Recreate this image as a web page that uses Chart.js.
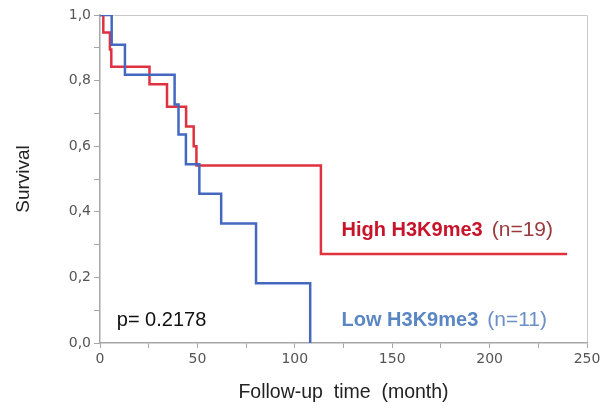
<!DOCTYPE html>
<html>
<head>
<meta charset="utf-8">
<script src="https://cdn.jsdelivr.net/npm/chart.js@4/dist/chart.umd.min.js"></script>
<style>
html,body{margin:0;padding:0;background:#fff;}
#wrap{width:600px;height:412px;position:relative;}
</style>
</head>
<body>
<div id="wrap"><canvas id="c"></canvas></div>
<script>
// Kaplan-Meier step data (months, survival)
const highTime = [0, 1.7, 5.1, 5.8, 25.4, 34.4, 44.2, 48.1, 49.5, 113.4, 239.8];
const highSurv = [1, 0.947, 0.895, 0.842, 0.789, 0.72, 0.66, 0.6, 0.541, 0.271, 0.271];
const lowTime = [0, 6, 12.8, 38.3, 40.3, 44.1, 51, 62.2, 80.1, 107.9];
const lowSurv = [1, 0.909, 0.818, 0.727, 0.636, 0.545, 0.455, 0.364, 0.182, 0];

const xTickLabels = ['0', '50', '100', '150', '200', '250'];
const yTickLabels = ['0,0', '0,2', '0,4', '0,6', '0,8', '1,0'];

const seriesLabels = ['High H3K9me3', 'Low H3K9me3'];
const seriesCounts = ['(n=19)', '(n=11)'];
const pText = 'p= 0.2178';

const toPts = (t, s) => t.map((v, i) => ({x: v, y: s[i]}));

const annot = {
  id: 'annot',
  beforeDraw(chart) {
    const {ctx, chartArea: a} = chart;
    ctx.save();
    ctx.strokeStyle = '#c8c8c8';
    ctx.lineWidth = 1;
    ctx.beginPath();
    ctx.moveTo(a.left, a.top + 0.5);
    ctx.lineTo(a.right + 0.5, a.top + 0.5);
    ctx.lineTo(a.right + 0.5, a.bottom);
    ctx.stroke();
    ctx.restore();
  },
  afterDraw(chart) {
    const {ctx, scales: {x, y}} = chart;
    ctx.save();
    ctx.textBaseline = 'alphabetic';
    ctx.textAlign = 'left';
    // High label
    let px = x.getPixelForValue(124), py = y.getPixelForValue(0.325);
    ctx.font = 'bold 20px "Liberation Sans", Arial, sans-serif';
    ctx.fillStyle = '#c8142a';
    ctx.fillText(seriesLabels[0], px, py);
    let w = ctx.measureText(seriesLabels[0]).width;
    ctx.font = '21px "Liberation Sans", Arial, sans-serif';
    ctx.fillStyle = '#9a3a3e';
    ctx.fillText(seriesCounts[0], px + w + 9, py);
    // Low label
    py = y.getPixelForValue(0.053);
    ctx.font = 'bold 20px "Liberation Sans", Arial, sans-serif';
    ctx.fillStyle = '#5b86c4';
    ctx.fillText(seriesLabels[1], px, py);
    w = ctx.measureText(seriesLabels[1]).width;
    ctx.font = '21px "Liberation Sans", Arial, sans-serif';
    ctx.fillStyle = '#6b8fc6';
    ctx.fillText(seriesCounts[1], px + w + 9, py);
    // p value
    ctx.font = '20px "Liberation Sans", Arial, sans-serif';
    ctx.fillStyle = '#111';
    ctx.fillText(pText, x.getPixelForValue(8.6), y.getPixelForValue(0.053));
    ctx.restore();
  }
};

new Chart(document.getElementById('c'), {
  type: 'line',
  data: {
    datasets: [
      {label: seriesLabels[1], data: toPts(lowTime, lowSurv), borderColor: '#4468c0', borderWidth: 2.5, stepped: 'before', pointRadius: 0, fill: false},
      {label: seriesLabels[0], data: toPts(highTime, highSurv), borderColor: '#e0313f', borderWidth: 2.5, stepped: 'before', pointRadius: 0, fill: false}
    ]
  },
  options: {
    responsive: true,
    maintainAspectRatio: false,
    animation: false,
    layout: {padding: {top: 15, right: 13, left: 0, bottom: 0}},
    plugins: {legend: {display: false}, tooltip: {enabled: false}},
    scales: {
      x: {
        type: 'linear', min: 0, max: 250,
        afterFit(s) { s.height = 69; s.paddingRight = 0; s.paddingLeft = 0; },
        border: {color: '#a6a6a6', width: 1.5},
        grid: {drawOnChartArea: false, color: '#a6a6a6', tickLength: 5},
        ticks: {
          stepSize: 25, padding: 3, color: '#555',
          font: {family: '"DejaVu Sans", sans-serif', size: 14},
          maxRotation: 0, autoSkip: false,
          callback: (v) => { const i = Math.round(v / 50); return Math.abs(v - i * 50) < 1e-6 ? xTickLabels[i] : ''; }
        },
        title: {display: true, text: 'Follow-up  time  (month)', color: '#222', padding: {top: 0, bottom: 8},
          font: {family: '"Liberation Sans", Arial, sans-serif', size: 19.5}}
      },
      y: {
        min: 0, max: 1,
        afterFit(s) { s.width = 100; s.paddingTop = 0; s.paddingBottom = 0; },
        border: {color: '#a6a6a6', width: 1.5},
        grid: {drawOnChartArea: false, color: '#a6a6a6', tickLength: 6},
        ticks: {
          stepSize: 0.1, padding: 3, color: '#555',
          font: {family: '"DejaVu Sans", sans-serif', size: 14},
          autoSkip: false,
          callback: (v) => { const k = Math.round(v * 10); return k % 2 === 0 ? yTickLabels[k / 2] : ''; }
        },
        title: {display: true, text: 'Survival', color: '#222', padding: {top: 12, bottom: 0},
          font: {family: '"Liberation Sans", Arial, sans-serif', size: 19}}
      }
    }
  },
  plugins: [annot]
});
</script>
</body>
</html>
